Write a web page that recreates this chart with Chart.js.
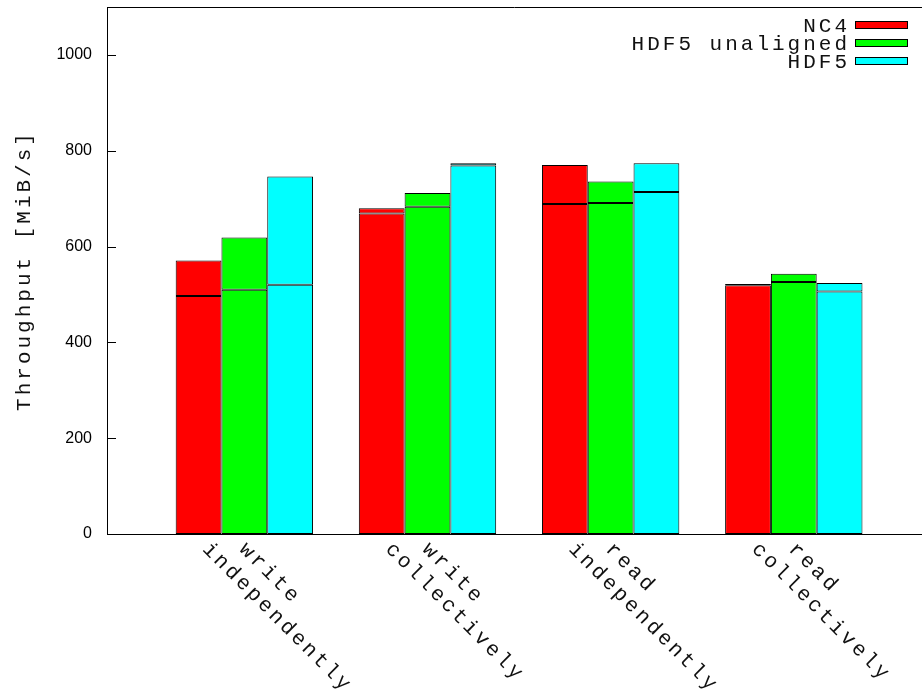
<!DOCTYPE html>
<html>
<head>
<meta charset="utf-8">
<script src="https://cdn.jsdelivr.net/npm/chart.js@4.4.1/dist/chart.umd.min.js"></script>
<style>
  html, body { margin: 0; padding: 0; background: #fff; }
</style>
</head>
<body>
<canvas id="chart" width="922" height="699"></canvas>
<script>
// Category labels (one entry per text line)
const categories = [
    ['write', 'independently'],
    ['write', 'collectively'],
    ['read', 'independently'],
    ['read', 'collectively']
];
const seriesNames = ['NC4', 'HDF5 unaligned', 'HDF5'];
const seriesColors = ['#ff0000', '#00ff00', '#00ffff'];

// Throughput in MiB/s: inner line (low) and bar top (high)
const nc4Low = [497, 669, 689, 519];
const nc4High = [571, 680, 770, 522];
const unalignedLow = [510, 683, 691, 526];
const unalignedHigh = [619, 712, 736, 543];
const hdf5Low = [520, 769, 714, 506];
const hdf5High = [746, 774, 774, 524];

const yTicks = [0, 200, 400, 600, 800, 1000];
const yTitle = 'Throughput [MiB/s]';

const MONO = "'Liberation Mono', 'Courier New', monospace";

// two datasets per series: solid bar to the low value, floating bar low..high on top
function seriesDatasets(k, low, high) {
    const common = {
        stack: 's' + k,
        backgroundColor: seriesColors[k],
        borderColor: '#000',
        borderWidth: 1,
        borderSkipped: false
    };
    return [
        Object.assign({ label: seriesNames[k], data: low.map((v, i) => ({ x: i, y: v })) }, common),
        Object.assign({ label: seriesNames[k] + ' top', data: high.map((v, i) => ({ x: i, y: [low[i], v] })) }, common)
    ];
}

// gnuplot-like frame, inward tics, rotated labels and key
const gnuplotLook = {
    id: 'gnuplotLook',
    afterDraw(chart) {
        const ctx = chart.ctx;
        const area = chart.chartArea;
        const xs = chart.scales.x;
        const ys = chart.scales.y;
        ctx.save();

        // top border
        ctx.strokeStyle = '#000';
        ctx.lineWidth = 1;
        ctx.beginPath();
        ctx.moveTo(area.left, Math.round(area.top) + 0.5);
        ctx.lineTo(area.right, Math.round(area.top) + 0.5);
        ctx.stroke();

        // inward y tics
        ys.ticks.forEach(t => {
            const py = Math.round(ys.getPixelForValue(t.value)) + 0.5;
            ctx.beginPath();
            ctx.moveTo(area.left, py);
            ctx.lineTo(area.left + 9, py);
            ctx.stroke();
        });

        ctx.fillStyle = '#111';
        ctx.font = '21px ' + MONO;
        ctx.letterSpacing = '3px';

        // x labels rotated by -45 (clockwise), lines start on the same row
        const lineH = 26;
        categories.forEach((lines, i) => {
            const cx = xs.getPixelForValue(i);
            lines.forEach((txt, j) => {
                ctx.save();
                ctx.translate(cx - 2 - j * lineH * Math.SQRT2, area.bottom + 12);
                ctx.rotate(Math.PI / 4);
                ctx.textAlign = 'left';
                ctx.textBaseline = 'middle';
                ctx.fillText(txt, 0, 0);
                ctx.restore();
            });
        });

        // y axis title
        ctx.save();
        ctx.translate(24, (area.top + area.bottom) / 2);
        ctx.rotate(-Math.PI / 2);
        ctx.textAlign = 'center';
        ctx.textBaseline = 'middle';
        ctx.fillText(yTitle, 0, 0);
        ctx.restore();

        // key, top right
        seriesNames.forEach((name, k) => {
            const rowY = 25 + k * 18;
            ctx.textAlign = 'right';
            ctx.textBaseline = 'middle';
            ctx.fillStyle = '#111';
            ctx.fillText(name, 850, rowY + 1);
            ctx.fillStyle = seriesColors[k];
            ctx.fillRect(855, rowY - 4, 53, 8);
            ctx.strokeRect(855.5, rowY - 3.5, 52, 7);
        });

        ctx.restore();
    }
};

new Chart(document.getElementById('chart').getContext('2d'), {
    type: 'bar',
    data: {
        datasets: [
            ...seriesDatasets(0, nc4Low, nc4High),
            ...seriesDatasets(1, unalignedLow, unalignedHigh),
            ...seriesDatasets(2, hdf5Low, hdf5High)
        ]
    },
    options: {
        responsive: false,
        animation: false,
        layout: { autoPadding: false, padding: { top: 7, left: 0, right: 0, bottom: 0 } },
        datasets: { bar: { categoryPercentage: 0.75, barPercentage: 1.0 } },
        plugins: {
            legend: { display: false },
            tooltip: { enabled: false }
        },
        scales: {
            x: {
                type: 'linear',
                min: -0.75,
                max: 3.70,
                offset: false,
                stacked: true,
                grid: { display: false, drawTicks: false, offset: false },
                border: { display: true, color: '#000', width: 1 },
                ticks: { display: false },
                afterBuildTicks: s => { s.ticks = categories.map((c, i) => ({ value: i })); },
                afterFit: s => { s.height = 165; s.paddingLeft = 0; s.paddingRight = 0; }
            },
            y: {
                min: 0,
                max: 1100,
                stacked: false,
                grid: { display: false, drawTicks: false, tickLength: 0 },
                border: { display: true, color: '#000', width: 1 },
                ticks: {
                    color: '#000',
                    padding: 15,
                    font: { family: "'Liberation Sans', Arial, sans-serif", size: 16 },
                    callback: v => String(v)
                },
                afterBuildTicks: s => { s.ticks = yTicks.map(v => ({ value: v })); },
                afterFit: s => { s.width = 107; s.paddingTop = 0; s.paddingBottom = 0; }
            }
        }
    },
    plugins: [gnuplotLook]
});
</script>
</body>
</html>
